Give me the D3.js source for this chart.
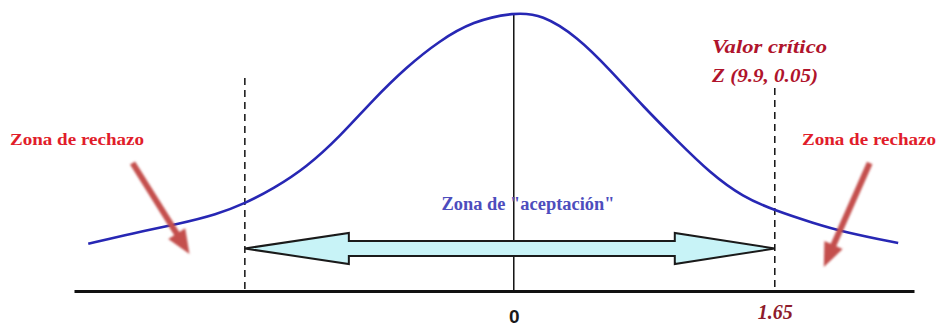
<!DOCTYPE html>
<html>
<head>
<meta charset="utf-8">
<script src="https://cdn.jsdelivr.net/npm/d3@7"></script>
<style>
  body { margin: 0; background: #fff; }
  svg { display: block; }
</style>
</head>
<body>
<div id="chart"></div>
<script>
// curve (z, height of the bell)
const curveZ = [-2.69, -2.41, -2.11, -1.88, -1.70, -1.52, -1.31, -1.10, -0.89, -0.68, -0.47, -0.26, 0, 0.18, 0.40, 0.61, 0.82, 1.03, 1.24, 1.45, 1.65, 1.89, 2.10, 2.43];
const curveDensity = [0.068, 0.083, 0.097, 0.110, 0.126, 0.147, 0.178, 0.222, 0.275, 0.322, 0.360, 0.388, 0.401, 0.398, 0.366, 0.318, 0.265, 0.217, 0.170, 0.135, 0.116, 0.098, 0.084, 0.069];

const criticalZ = [-1.70, 1.65];
const tickValues = [0, 1.65];
const tickLabels = ["0", "1.65"];
const rejectLabel = "Zona de rechazo";
const acceptLabel = 'Zona de "aceptación"';
const criticalLabels = ["Valor crítico", "Z (9.9, 0.05)"];

const width = 938;
const height = 327;

const svg = d3.select("#chart")
  .append("svg")
  .attr("width", width)
  .attr("height", height);

const x = d3.scaleLinear().domain([-2.78, 2.53]).range([74, 914]);
const y = d3.scaleLinear().domain([0, 0.4]).range([291, 13]);

// baseline axis
const axis = svg.append("g")
  .attr("transform", `translate(0,${y(0)})`)
  .call(d3.axisBottom(x).tickValues(tickValues).tickSize(0).tickSizeOuter(0)
    .tickFormat((d, i) => tickLabels[i]));

axis.select(".domain").attr("stroke", "#111").attr("stroke-width", 3);
axis.selectAll("text")
  .attr("dy", null)
  .attr("y", (d, i) => (i === 0 ? 32 : 28))
  .attr("fill", (d, i) => (i === 0 ? "#1a1a1a" : "#8e1b2b"))
  .style("font-family", (d, i) => (i === 0 ? "'Liberation Sans', Arial, sans-serif" : "'Liberation Serif', serif"))
  .style("font-weight", (d, i) => (i === 0 ? "bold" : "600"))
  .style("font-style", (d, i) => (i === 0 ? "normal" : "italic"))
  .style("font-size", (d, i) => (i === 0 ? "19px" : "20px"));

// center line
svg.append("line")
  .attr("x1", x(0)).attr("x2", x(0))
  .attr("y1", y(0.4)).attr("y2", y(0))
  .attr("stroke", "#111")
  .attr("stroke-width", 1.5);

// critical dashed lines
const dashTop = [78, 88];
svg.selectAll(".crit")
  .data(criticalZ)
  .enter()
  .append("line")
  .attr("class", "crit")
  .attr("x1", (d) => x(d)).attr("x2", (d) => x(d))
  .attr("y1", (d, i) => dashTop[i]).attr("y2", y(0))
  .attr("stroke", "#111")
  .attr("stroke-width", 1.5)
  .attr("stroke-dasharray", "7,5");

// bell curve
const line = d3.line()
  .x((d, i) => x(curveZ[i]))
  .y((d) => y(d))
  .curve(d3.curveBasis);

svg.append("path")
  .datum(curveDensity)
  .attr("fill", "none")
  .attr("stroke", "#2727b4")
  .attr("stroke-width", 2.6)
  .attr("d", line);

// acceptance double arrow
const ay = 248.5;
const xl = x(criticalZ[0]);
const xr = x(criticalZ[1]);
const arrowPts = [
  [xl, ay], [xl + 104, ay - 15.5], [xl + 104, ay - 7.5],
  [xr - 100, ay - 7.5], [xr - 100, ay - 15.5], [xr, ay],
  [xr - 100, ay + 15.5], [xr - 100, ay + 7.5], [xl + 104, ay + 7.5],
  [xl + 104, ay + 15.5]
];
svg.append("polygon")
  .attr("points", arrowPts.map((p) => p.join(",")).join(" "))
  .attr("fill", "#c8f3f7")
  .attr("stroke", "#1a1a1a")
  .attr("stroke-width", 2)
  .attr("stroke-linejoin", "miter");

svg.append("text")
  .attr("x", 528)
  .attr("y", 210)
  .attr("text-anchor", "middle")
  .attr("textLength", 173)
  .attr("lengthAdjust", "spacingAndGlyphs")
  .attr("fill", "#4d4dbd")
  .style("font-family", "'Liberation Serif', 'Times New Roman', serif")
  .style("font-weight", "bold")
  .style("font-size", "18px")
  .text(acceptLabel);

// red pointer arrows
const defs = svg.append("defs");
defs.append("filter").attr("id", "soft")
  .append("feGaussianBlur").attr("stdDeviation", 0.8);

function redArrow(x1, y1, x2, y2) {
  const dx = x2 - x1, dy = y2 - y1;
  const len = Math.sqrt(dx * dx + dy * dy);
  const ux = dx / len, uy = dy / len;
  const nx = -uy, ny = ux;
  const headLen = 24, shaft = 3, head = 10;
  const bx = x2 - ux * headLen, by = y2 - uy * headLen;
  const pts = [
    [x1 + nx * shaft, y1 + ny * shaft],
    [bx + nx * shaft, by + ny * shaft],
    [bx + nx * head, by + ny * head],
    [x2, y2],
    [bx - nx * head, by - ny * head],
    [bx - nx * shaft, by - ny * shaft],
    [x1 - nx * shaft, y1 - ny * shaft]
  ];
  svg.append("polygon")
    .attr("points", pts.map((p) => p.join(",")).join(" "))
    .attr("fill", "#c4504e")
    .attr("filter", "url(#soft)");
}
redArrow(x(-2.41), 163, x(-2.05), 254);
redArrow(x(2.25), 163, x(1.96), 267);

// rejection labels
const rejectX = [77, 869];
svg.selectAll(".reject")
  .data(rejectX)
  .enter()
  .append("text")
  .attr("class", "reject")
  .attr("x", (d) => d)
  .attr("y", 145)
  .attr("text-anchor", "middle")
  .attr("textLength", 134)
  .attr("lengthAdjust", "spacingAndGlyphs")
  .attr("fill", "#e11d2b")
  .style("font-family", "'Liberation Serif', 'Times New Roman', serif")
  .style("font-weight", "bold")
  .style("font-size", "17px")
  .text(rejectLabel);

// critical value label
const critW = [115, 106];
svg.selectAll(".critlabel")
  .data(criticalLabels)
  .enter()
  .append("text")
  .attr("class", "critlabel")
  .attr("x", 712)
  .attr("y", (d, i) => 53 + i * 29)
  .attr("textLength", (d, i) => critW[i])
  .attr("lengthAdjust", "spacingAndGlyphs")
  .attr("fill", "#b0142c")
  .style("font-family", "'Liberation Serif', 'Times New Roman', serif")
  .style("font-style", "italic")
  .style("font-weight", "bold")
  .style("font-size", "19px")
  .text((d) => d);
</script>
</body>
</html>
